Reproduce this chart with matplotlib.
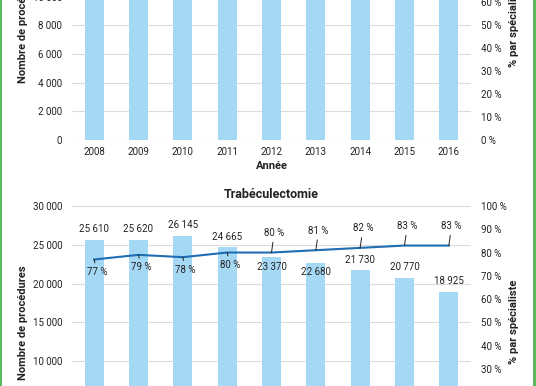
import matplotlib
matplotlib.use('Agg')
import matplotlib.pyplot as plt
from matplotlib.ticker import FuncFormatter
from matplotlib.patches import Rectangle

plt.rcParams['font.family'] = ['Roboto', 'DejaVu Sans']

# data
years = ['2008', '2009', '2010', '2011', '2012', '2013', '2014', '2015', '2016']

# top panel (only the lower part is visible in the crop)
top_counts = [11800, 12200, 12600, 12900, 13100, 13300, 13500, 13800, 14000]
top_pct = [70, 72, 73, 75, 76, 78, 79, 80, 81]

# Trabéculectomie
trab_counts = [25610, 25620, 26145, 24665, 23370, 22680, 21730, 20770, 18925]
trab_pct = [77, 79, 78, 80, 80, 81, 82, 83, 83]
pct_above = [False, False, False, False, True, True, True, True, True]
count_inside = [False, False, False, False, True, True, False, False, False]

bar_color = '#a5d8f5'
line_color = '#1f6db2'
grid_color = '#dcdcdc'
txt = '#222222'


def thousands(v, pos=None):
    return f'{int(v):,}'.replace(',', ' ')


def pct_fmt(v, pos=None):
    return f'{int(round(v))} %'


def setup(ax, ax2, ymax):
    ax.set_xlim(-0.5, len(years) - 0.5)
    ax.set_ylim(0, ymax)
    ax2.set_ylim(0, 100)
    ax.yaxis.set_major_formatter(FuncFormatter(thousands))
    ax2.yaxis.set_major_formatter(FuncFormatter(pct_fmt))
    ax2.set_yticks(range(0, 101, 10))
    ax.grid(axis='y', color=grid_color, lw=0.8)
    ax.set_axisbelow(True)
    for a in (ax, ax2):
        for s in a.spines.values():
            s.set_visible(False)
        a.tick_params(length=0, labelsize=7, colors=txt, pad=7)
    ax.tick_params(axis='x', pad=5)
    ax.set_ylabel('Nombre de procédures', fontsize=8, fontweight='bold',
                  color=txt, labelpad=3)
    ax2.set_ylabel('% par spécialiste', fontsize=8, fontweight='bold',
                   color=txt, labelpad=2)


fig = plt.figure(figsize=(5.36, 3.86), dpi=100)

# top panel
ax1 = fig.add_axes([0.1343, 0.6373, 0.7444, 0.5948])
ax1b = ax1.twinx()
ax1.bar(years, top_counts, width=0.43, color=bar_color, zorder=2)
ax1b.plot(years, top_pct, color=line_color, lw=1.5)
ax1.set_yticks(range(0, 16001, 2000))
setup(ax1, ax1b, 16000)
ax1.set_xlabel('Année', fontsize=8, fontweight='bold', color=txt, labelpad=3)

# bottom panel - Trabéculectomie
ax2 = fig.add_axes([0.1343, -0.1363, 0.7444, 0.6026])
ax2b = ax2.twinx()
bars = ax2.bar(years, trab_counts, width=0.43, color=bar_color, zorder=2)
ax2b.plot(years, trab_pct, color=line_color, lw=1.5, zorder=3)
ax2.set_yticks(range(0, 30001, 5000))
setup(ax2, ax2b, 30000)
ax2.set_title('Trabéculectomie', fontsize=9, fontweight='bold', color=txt, pad=6)

for i, (b, v) in enumerate(zip(bars, trab_counts)):
    if count_inside[i]:
        ax2.annotate(thousands(v), (b.get_x() + b.get_width() / 2, v),
                     xytext=(0, -7), textcoords='offset points',
                     ha='center', va='center', fontsize=7, color=txt)
    else:
        ax2.annotate(thousands(v), (b.get_x() + b.get_width() / 2, v),
                     xytext=(0, 4), textcoords='offset points',
                     ha='center', va='bottom', fontsize=7, color=txt)

for i, p in enumerate(trab_pct):
    dy = 14 if pct_above[i] else -9
    ax2b.annotate(f'{p} %', (i, p), xytext=(2, dy), textcoords='offset points',
                  ha='center', va='center', fontsize=7, color=txt,
                  arrowprops=dict(arrowstyle='-', color=txt, lw=0.7,
                                  shrinkA=1, shrinkB=0))

# green frame edges
fig.add_artist(Rectangle((0, 0), 0.004, 1, transform=fig.transFigure,
                         color='#5cb85c', lw=0))
fig.add_artist(Rectangle((0.995, 0), 0.005, 1, transform=fig.transFigure,
                         color='#5cb85c', lw=0))

fig.savefig('out.png', dpi=100)
